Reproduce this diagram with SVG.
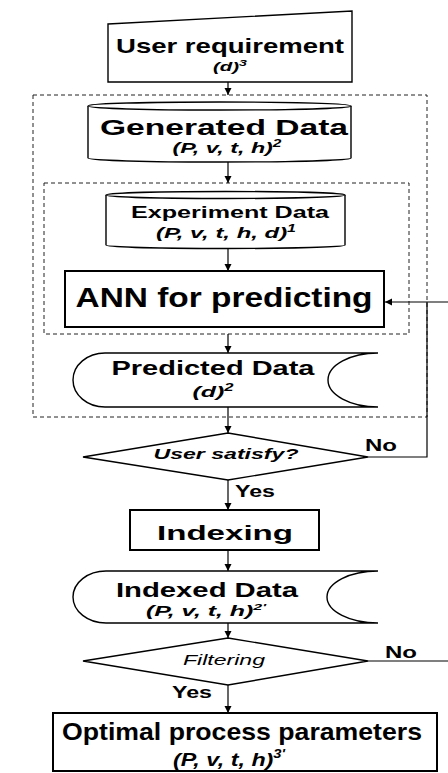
<svg xmlns="http://www.w3.org/2000/svg" width="448" height="773" viewBox="0 0 448 773">
<style>
.shape{fill:#fff;stroke:#000;stroke-width:1.4}
.thick{fill:#fff;stroke:#000;stroke-width:2}
.dash{fill:none;stroke:#222;stroke-width:1;stroke-dasharray:4 3}
.con{fill:none;stroke:#000;stroke-width:1.2}
text{font-family:"Liberation Sans",Arial,sans-serif;fill:#000;text-anchor:middle}
.b{font-weight:bold}
.bi{font-weight:bold;font-style:italic}
.i{font-style:italic}
</style>
<defs>
<marker id="ah" markerUnits="userSpaceOnUse" markerWidth="8" markerHeight="8" refX="7" refY="3.5" orient="auto">
<path d="M0,0 L7,3.5 L0,7 z" fill="#000"/>
</marker>
</defs>
<rect width="448" height="773" fill="#fff"/>

<g id="group-outer"><rect class="dash" x="33" y="95" width="394" height="322"/></g>
<g id="group-inner"><rect class="dash" x="44" y="183" width="365" height="151"/></g>

<g id="connectors">
<line class="con" x1="228" y1="82" x2="228" y2="95" marker-end="url(#ah)"/>
<line class="con" x1="228" y1="162" x2="228" y2="183" marker-end="url(#ah)"/>
<line class="con" x1="228" y1="249" x2="228" y2="271" marker-end="url(#ah)"/>
<line class="con" x1="228" y1="334" x2="228" y2="353" marker-end="url(#ah)"/>
<line class="con" x1="228" y1="407" x2="228" y2="433" marker-end="url(#ah)"/>
<line class="con" x1="228" y1="480" x2="228" y2="510" marker-end="url(#ah)"/>
<line class="con" x1="228" y1="550" x2="228" y2="571" marker-end="url(#ah)"/>
<line class="con" x1="228" y1="623" x2="228" y2="638" marker-end="url(#ah)"/>
<line class="con" x1="228" y1="685" x2="228" y2="713" marker-end="url(#ah)"/>
<polyline class="con" points="368,457 427,457 427,302"/>
<line class="con" x1="448" y1="302" x2="385" y2="302" marker-end="url(#ah)"/>
<line class="con" x1="368" y1="661" x2="448" y2="661"/>
<text class="b" x="381" y="451" font-size="17" textLength="32" lengthAdjust="spacingAndGlyphs">No</text>
<text class="b" x="255" y="497" font-size="17" textLength="40" lengthAdjust="spacingAndGlyphs">Yes</text>
<text class="b" x="401" y="658" font-size="17" textLength="32" lengthAdjust="spacingAndGlyphs">No</text>
<text class="b" x="192" y="698" font-size="17" textLength="40" lengthAdjust="spacingAndGlyphs">Yes</text>
</g>

<g id="user-requirement">
<polygon class="shape" points="108,24 352,11 352,82 108,82"/>
<text class="b" x="230" y="53" font-size="21" textLength="228" lengthAdjust="spacingAndGlyphs">User requirement</text>
<text class="bi" x="230" y="71" font-size="13" textLength="34" lengthAdjust="spacingAndGlyphs">(d)<tspan font-size="9" dy="-5">3</tspan></text>
</g>

<g id="generated-data">
<path class="shape" stroke-width="1.8" d="M88,106 V158 A131.5,4 0 0 0 351,158 V106"/>
<ellipse class="shape" stroke-width="1.8" cx="219.5" cy="106" rx="131.5" ry="4"/>
<text class="b" x="224" y="135" font-size="22" textLength="248" lengthAdjust="spacingAndGlyphs">Generated Data</text>
<text class="bi" x="227" y="153" font-size="15" textLength="109" lengthAdjust="spacingAndGlyphs">(P, v, t, h)<tspan font-size="10" dy="-6">2</tspan></text>
</g>

<g id="experiment-data">
<path class="shape" stroke-width="1.8" d="M106,195 V245 A119.5,3.5 0 0 0 345,245 V195"/>
<ellipse class="shape" stroke-width="1.8" cx="225.5" cy="195" rx="119.5" ry="3.5"/>
<text class="b" x="230" y="218" font-size="16" textLength="198" lengthAdjust="spacingAndGlyphs">Experiment Data</text>
<text class="bi" x="226" y="238" font-size="15" textLength="140" lengthAdjust="spacingAndGlyphs">(P, v, t, h, d)<tspan font-size="10" dy="-6">1</tspan></text>
</g>

<g id="ann">
<rect class="thick" x="65" y="271" width="319" height="56"/>
<text class="b" x="224" y="307" font-size="28" textLength="297" lengthAdjust="spacingAndGlyphs">ANN for predicting</text>
</g>

<g id="predicted-data">
<path class="shape" d="M105,353 H378 A50,27 0 0 0 378,407 H105 A32,27 0 0 1 105,353 Z"/>
<text class="b" x="213" y="375" font-size="21" textLength="203" lengthAdjust="spacingAndGlyphs">Predicted Data</text>
<text class="bi" x="213" y="397" font-size="15" textLength="41" lengthAdjust="spacingAndGlyphs">(d)<tspan font-size="10" dy="-6">2</tspan></text>
</g>

<g id="user-satisfy">
<polygon class="shape" stroke-width="1.2" points="228,433 368,457 228,480 83,457"/>
<text class="bi" x="226" y="459" font-size="15" textLength="145" lengthAdjust="spacingAndGlyphs">User satisfy?</text>
</g>

<g id="indexing">
<rect class="thick" x="130" y="510" width="189" height="40"/>
<text class="b" x="225" y="540" font-size="21" textLength="136" lengthAdjust="spacingAndGlyphs">Indexing</text>
</g>

<g id="indexed-data">
<path class="shape" d="M106,571 H378 A51,26 0 0 0 378,623 H106 A33,26 0 0 1 106,571 Z"/>
<text class="b" x="207" y="597" font-size="20" textLength="182" lengthAdjust="spacingAndGlyphs">Indexed Data</text>
<text class="bi" x="206" y="616" font-size="14" textLength="120" lengthAdjust="spacingAndGlyphs">(P, v, t, h)<tspan font-size="9" dy="-6">2'</tspan></text>
</g>

<g id="filtering">
<polygon class="shape" stroke-width="1.2" points="228,638 368,661 228,685 83,661"/>
<text class="i" x="224" y="665" font-size="14" textLength="82" lengthAdjust="spacingAndGlyphs">Filtering</text>
</g>

<g id="optimal">
<rect class="thick" x="53" y="713" width="384" height="58"/>
<text class="b" x="242" y="740" font-size="24" textLength="360" lengthAdjust="spacingAndGlyphs">Optimal process parameters</text>
<text class="bi" x="229" y="766" font-size="19" textLength="112" lengthAdjust="spacingAndGlyphs">(P, v, t, h)<tspan font-size="12" dy="-8">3'</tspan></text>
</g>
</svg>
